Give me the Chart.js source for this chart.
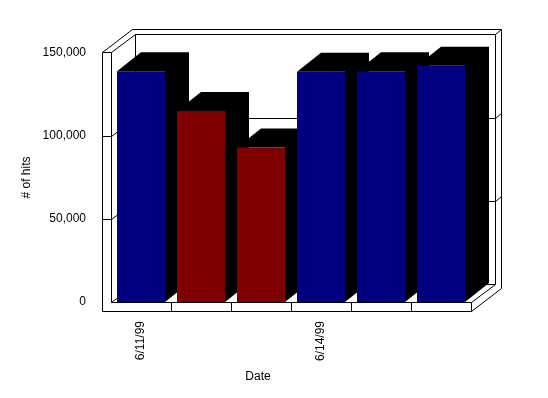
<!DOCTYPE html>
<html><head><meta charset="utf-8">
<script src="https://cdn.jsdelivr.net/npm/chart.js@4"></script>
<style>html,body{margin:0;padding:0;background:#fff}canvas{display:block}</style>
</head><body><canvas id="c" width="548" height="398"></canvas>
<script>
// ---- data ----
const categories = ['6/11/99', '6/12/99', '6/13/99', '6/14/99', '6/15/99', '6/16/99'];
const hits = [139000, 115000, 93000, 138700, 139000, 142300];
const xTickLabels = ['6/11/99', '', '', '6/14/99', '', ''];
const yTickValues = [0, 50000, 100000, 150000];
const yTitle = '# of hits';
const xTitle = 'Date';
// ---- style ----
const barColors = ['#000080', '#800000', '#800000', '#000080', '#000080', '#000080'];
const FONT = '"Liberation Sans", Arial, sans-serif';

const frame3d = {
  id: 'frame3d',
  beforeDatasetsDraw(chart) {
    const {ctx, chartArea: a, scales: {x, y}} = chart;
    const L = Math.round(a.left), R = Math.round(a.right), T = Math.round(a.top), B = Math.round(a.bottom);
    const W = 9, F = 9, dx = 24, dy = -18, ex = 30, ey = -23;
    const OL = L - W, top = T - 1;
    ctx.save();
    ctx.strokeStyle = '#000';
    ctx.lineWidth = 1;
    const line = (pts) => {
      ctx.beginPath();
      pts.forEach((p, i) => i ? ctx.lineTo(Math.round(p[0]) + .5, Math.round(p[1]) + .5) : ctx.moveTo(Math.round(p[0]) + .5, Math.round(p[1]) + .5));
      ctx.stroke();
    };
    // outer silhouette
    line([[OL, top], [OL + ex, top + ey], [R + ex, top + ey], [R + ex, B + F + ey], [R, B + F], [OL, B + F], [OL, top]]);
    // left wall front face
    line([[OL, top], [L, top], [L, B]]);
    // inner top edges
    line([[L, top], [L + dx, top + dy], [R + dx, top + dy], [R + ex, top + ey]]);
    // back wall edges
    line([[L + dx, top + dy], [L + dx, B + dy], [R + dx, B + dy], [R + dx, top + dy]]);
    // floor
    line([[L, B], [L + dx, B + dy]]);
    line([[L, B], [R, B], [R, B + F]]);
    line([[R, B], [R + dx, B + dy]]);
    for (let i = 0; i < categories.length - 1; i++) {
      const xb = (x.getPixelForValue(i) + x.getPixelForValue(i + 1)) / 2;
      line([[xb, B], [xb, B + F]]);
    }
    // grid lines on walls
    yTickValues.forEach(v => {
      if (v === yTickValues[0] || v === yTickValues[yTickValues.length - 1]) return;
      const yy = y.getPixelForValue(v);
      line([[OL, yy], [L, yy], [L + dx, yy + dy], [R + dx, yy + dy], [R + ex, yy + ey]]);
    });
    // bar depth (black top and side)
    const bdx = 24, bdy = -19;
    ctx.fillStyle = '#000';
    chart.getDatasetMeta(0).data.forEach(el => {
      const p = el.getProps(['x', 'y', 'base', 'width'], true);
      const x0 = p.x - p.width / 2, x1 = p.x + p.width / 2;
      ctx.beginPath();
      ctx.moveTo(x0, p.y);
      ctx.lineTo(x0 + bdx, p.y + bdy);
      ctx.lineTo(x1 + bdx, p.y + bdy);
      ctx.lineTo(x1 + bdx, p.base + bdy);
      ctx.lineTo(x1, p.base);
      ctx.lineTo(x1, p.y);
      ctx.closePath();
      ctx.fill();
    });
    ctx.restore();
  },
  afterDraw(chart) {
    const ctx = chart.ctx;
    ctx.save();
    ctx.fillStyle = '#000';
    ctx.font = '12px ' + FONT;
    ctx.textAlign = 'center';
    ctx.textBaseline = 'middle';
    ctx.fillText(xTitle, 258, 377);
    ctx.restore();
  }
};

new Chart(document.getElementById('c'), {
  type: 'bar',
  data: {
    labels: categories,
    datasets: [{
      data: hits,
      backgroundColor: barColors,
      borderWidth: 0,
      barPercentage: 0.8,
      categoryPercentage: 1.0
    }]
  },
  options: {
    responsive: false,
    animation: false,
    devicePixelRatio: 1,
    layout: {padding: {top: 53, right: 77, left: 0, bottom: 0}},
    plugins: {legend: {display: false}, tooltip: {enabled: false}},
    scales: {
      x: {
        grid: {display: false},
        border: {display: false},
        afterFit: s => { s.height = 96; },
        ticks: {
          autoSkip: false, maxRotation: 90, minRotation: 90, padding: 11,
          color: '#000', font: {family: FONT, size: 12},
          callback: (v, i) => xTickLabels[i]
        }
      },
      y: {
        min: 0, max: 150000,
        grid: {display: false},
        border: {display: false},
        afterFit: s => { s.width = 111; },
        afterBuildTicks: s => { s.ticks = yTickValues.map(v => ({value: v})); },
        ticks: {
          padding: 17, color: '#000', font: {family: FONT, size: 12},
          callback: v => v.toLocaleString('en-US')
        },
        title: {display: true, text: yTitle, color: '#000', font: {family: FONT, size: 12}, padding: {top: 19, bottom: 0}}
      }
    }
  },
  plugins: [frame3d]
});
</script>
</body></html>
